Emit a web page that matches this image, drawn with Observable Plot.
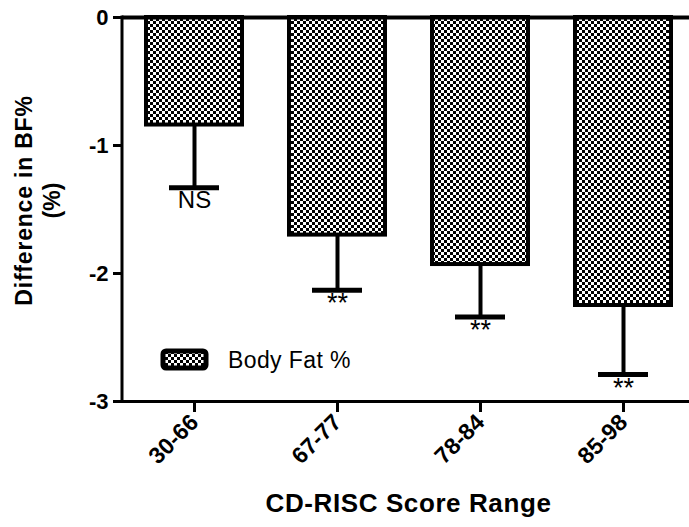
<!DOCTYPE html>
<html>
<head>
<meta charset="utf-8">
<script src="https://cdn.jsdelivr.net/npm/d3@7"></script>
<script src="https://cdn.jsdelivr.net/npm/@observablehq/plot@0.6"></script>
<style>
  html, body { margin: 0; padding: 0; background: #fff; overflow: hidden; }
  #chart { position: relative; width: 689px; height: 527px; }
</style>
</head>
<body>
<div id="chart"></div>
<script>
const categories = ["30-66", "67-77", "78-84", "85-98"];
const means = [-0.84, -1.70, -1.93, -2.25];
const errorEnds = [-1.33, -2.13, -2.34, -2.79];
const sigLabels = ["NS", "**", "**", "**"];
const yTicks = [0, -1, -2, -3];
const seriesName = "Body Fat %";
const xTitle = "CD-RISC Score Range";
const yTitle1 = "Difference in BF%";
const yTitle2 = "(%)";

const data = categories.map((c, i) => ({cat: c, mean: means[i], err: errorEnds[i], sig: sigLabels[i]}));

const font = "'Liberation Sans', Arial, sans-serif";

const plot = Plot.plot({
  width: 689,
  height: 527,
  marginLeft: 122,
  marginRight: -5,
  marginTop: 17,
  marginBottom: 126,
  style: {fontFamily: font, background: "#fff", color: "#000", overflow: "visible"},
  x: {domain: categories, paddingInner: 0.33, paddingOuter: 0.165, label: null},
  y: {domain: [-3, 0], label: null},
  marks: [
    Plot.barY(data, {x: "cat", y1: 0, y2: "mean", fill: "url(#checker)", stroke: "#000", strokeWidth: 4}),
    Plot.ruleX(data, {x: "cat", y1: "mean", y2: "err", stroke: "#000", strokeWidth: 4}),
    Plot.tickY(data, {x: "cat", y: "err", stroke: "#000", strokeWidth: 5, insetLeft: 23, insetRight: 23}),
    Plot.text(data.filter(d => d.sig === "NS"), {x: "cat", y: "err", text: "sig", lineAnchor: "top", dy: 3, fontSize: 24, fill: "#000"}),
    Plot.text(data.filter(d => d.sig !== "NS"), {x: "cat", y: "err", text: "sig", lineAnchor: "top", dy: 3, fontSize: 27, fill: "#000"}),
    Plot.ruleY([0], {stroke: "#000", strokeWidth: 4}),
    Plot.ruleY([-3], {stroke: "#000", strokeWidth: 3}),
    Plot.axisY({ticks: yTicks, tickFormat: d => String(d), tickSize: 9, tickPadding: 5, strokeWidth: 3, fontSize: 22, fontWeight: "bold", label: null}),
    Plot.axisX({tickSize: 11, tickPadding: 6, tickRotate: -45, strokeWidth: 3, fontSize: 23, fontWeight: "bold", label: null}),
    Plot.text([yTitle1], {frameAnchor: "left", textAnchor: "middle", rotate: -90, dx: -98, dy: -9, fontSize: 23, fontWeight: "bold", fill: "#000"}),
    Plot.text([yTitle2], {frameAnchor: "left", textAnchor: "middle", rotate: -90, dx: -70, dy: -9, fontSize: 23, fontWeight: "bold", fill: "#000"}),
    Plot.text([xTitle], {frameAnchor: "bottom", textAnchor: "middle", dy: 110, fontSize: 26, fontWeight: "bold", fill: "#000"})
  ]
});

const svg = d3.select(plot);

// checkerboard pattern
const defs = svg.insert("defs", ":first-child");
const pat = defs.append("pattern").attr("id", "checker").attr("patternUnits", "userSpaceOnUse")
  .attr("width", 6).attr("height", 6);
pat.append("rect").attr("width", 6).attr("height", 6).attr("fill", "#fff");
pat.append("rect").attr("width", 3).attr("height", 3).attr("fill", "#000");
pat.append("rect").attr("x", 3).attr("y", 3).attr("width", 3).attr("height", 3).attr("fill", "#000");

// left axis line using the plot's scales
const xs = plot.scale("x"), ys = plot.scale("y");
svg.append("line")
  .attr("x1", xs.range[0]).attr("x2", xs.range[0])
  .attr("y1", ys.apply(0)).attr("y2", ys.apply(-3))
  .attr("stroke", "#000").attr("stroke-width", 3).attr("stroke-linecap", "square");

// letter spacing on titles
svg.selectAll("text").filter(function() { return this.textContent === yTitle1; }).style("letter-spacing", "0.8px");
svg.selectAll("text").filter(function() { return this.textContent === xTitle; }).style("letter-spacing", "0.6px");

// legend inside plot
const lg = svg.append("g").attr("class", "legend");
lg.append("rect").attr("x", 163).attr("y", 351).attr("width", 43).attr("height", 17).attr("rx", 3)
  .attr("fill", "url(#checker)").attr("stroke", "#000").attr("stroke-width", 5);
lg.append("text").attr("x", 228).attr("y", 360).attr("dy", "0.35em").attr("text-anchor", "start")
  .attr("font-family", font).attr("font-size", 23).style("letter-spacing", "0.4px").attr("fill", "#000").text(seriesName);

document.getElementById("chart").appendChild(plot);
</script>
</body>
</html>
